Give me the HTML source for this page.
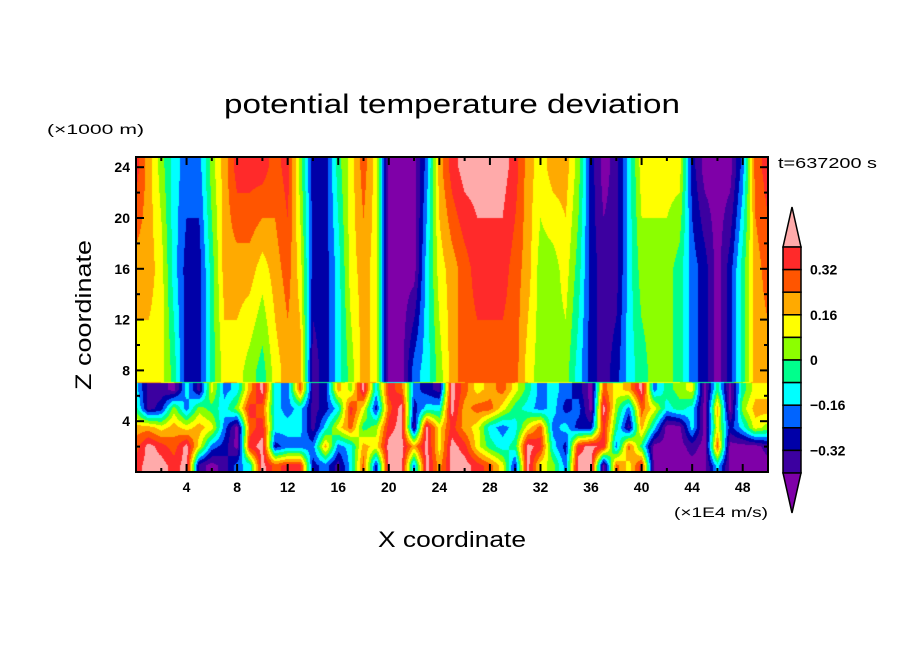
<!DOCTYPE html>
<html><head><meta charset="utf-8">
<style>
body{margin:0;background:#fff;width:904px;height:654px;overflow:hidden;font-family:"Liberation Sans",sans-serif;}
#wrap{position:relative;width:904px;height:654px;}
canvas{position:absolute;left:136px;top:157px;}
svg{position:absolute;left:0;top:0;}
</style></head><body>
<div id="wrap">
<canvas id="field" width="632" height="315"></canvas>
<svg id="ov" width="904" height="654">
<text x="452" y="113" text-anchor="middle" font-size="27" textLength="456" lengthAdjust="spacingAndGlyphs">potential temperature deviation</text>
<text x="47" y="134" font-size="14" textLength="97" lengthAdjust="spacingAndGlyphs">(×1000 m)</text>
<text x="0" y="0" font-size="22" text-anchor="middle" textLength="150" lengthAdjust="spacingAndGlyphs" transform="translate(91,315) rotate(-90)">Z coordinate</text>
<text x="452" y="547" font-size="22" text-anchor="middle" textLength="148" lengthAdjust="spacingAndGlyphs">X coordinate</text>
<text x="768" y="517" font-size="14" text-anchor="end" textLength="94" lengthAdjust="spacingAndGlyphs">(×1E4 m/s)</text>
<text x="778" y="168" font-size="15" textLength="99" lengthAdjust="spacingAndGlyphs">t=637200 s</text>
<g id="axes"></g>
<g id="cbar"></g>
</svg>
</div>
<script>
// Values: deviation in contour steps of 0.08 K (value 5.5 = 0 K)
const xs = [0,1,2,3,4,5,6,7,8,9,10,11,12,13,14,15,16,17,18,19,20,21,22,23,24,25,26,27,28,29,30,31,32,33,34,35,36,37,38,39,40,41,42,43,44,45,46,47,48,49,50];
const upperZ = [24,16,8];
const thetaZ24 = [10,8,6,4,3,3,6,8,10,10,10,9,10,6,2,2,5,7,9,7,0,0,0,3,8,10,11,11,11,11,10,8,7,8,8,6,2,0,1,4,7,7,7,7,2,0,0,0,3,9,10];
const thetaZ16 = [8,8,7,4,2,2,5,8,8,8,7,8,9,7,2,2,4,7,8,7,0,0,0,4,7,8,9,10,10,10,9,8,6,6,7,5,2,1,1,4,6,6,6,5,3,2,0,2,5,8,9];
const thetaZ8  = [7,7,7,5,2,2,5,7,7,6,5,7,8,8,1,2,4,6,8,7,0,0,3,4,6,8,9,9,9,9,9,7,6,6,6,4,2,1,2,4,5,6,6,5,3,2,0,2,5,8,8];
const lowerZ = [6.5,5,3.5,2,0.5];
const thetaL65 = [4,1,1,0,4,1,7,3,4,8,11,4,3,9,1,2,8,6,11,4,10,9,3,2,1,11,9,7,8,9,7,5,3,4,3,2,0,9,7,8,11,3,5,6,7,0,5,0,5,7,7];
const thetaL50 = [5,1,2,6,3,6,5,4,6,10,9,4,3,4,1,2,4,10,7,2,9,11,2,4,4,11,8,9,9,7,5,4,3,4,2,3,0,11,6,3,9,7,4,5,4,0,8,0,6,8,8];
const thetaL35 = [8,8,7,8,7,8,7,3,0,9,10,4,4,4,1,4,7,9,5,6,10,11,1,11,7,10,8,7,4,3,4,7,9,3,4,2,2,10,5,1,8,4,0,0,4,0,7,2,4,7,6];
const thetaL20 = [9,11,10,9,11,7,3,2,0,10,11,2,3,3,3,8,3,4,8,7,11,11,8,11,7,11,10,7,5,4,5,11,10,4,2,10,11,10,3,9,5,0,0,0,1,0,9,0,0,0,1];
const thetaL05 = [10,11,11,10,11,1,0,1,3,4,11,9,10,10,2,3,1,4,9,2,11,11,3,11,8,11,11,10,9,7,2,11,7,6,3,11,11,0,9,7,10,0,0,0,0,0,4,0,0,0,0];
const cbarLabels = ["0.32","0.16","0","\u22120.16","\u22120.32"];
const xTicks = [4,8,12,16,20,24,28,32,36,40,44,48];
const yTicks = [4,8,12,16,20,24];

const colors=["#7f00a8","#3c00a0","#0000a8","#0064ff","#00ffff","#00ff8c","#8cff00","#ffff00","#ffaa00","#ff5500","#ff2a2a","#ffaaaa"];
const rgb=colors.map(c=>[parseInt(c.substr(1,2),16),parseInt(c.substr(3,2),16),parseInt(c.substr(5,2),16)]);
const L=136,T=157,W=632,H=315,R=L+W,B=T+H;
const sx=x=>L+x*W/50, sz=z=>B-z*12.7;
const upRows=[thetaZ24,thetaZ16,thetaZ8], lowRows=[thetaL65,thetaL50,thetaL35,thetaL20,thetaL05];
function rowAt(row,x){const i=Math.min(49,Math.floor(x)),f=x-i;return row[i]*(1-f)+row[i+1]*f;}
function interp(zs,rows,x,z){
  if(z>=zs[0])return rowAt(rows[0],x);
  if(z<=zs[zs.length-1])return rowAt(rows[rows.length-1],x);
  for(let k=0;k<zs.length-1;k++){if(z<=zs[k]&&z>=zs[k+1]){const f=(zs[k]-z)/(zs[k]-zs[k+1]);return rowAt(rows[k],x)*(1-f)+rowAt(rows[k+1],x)*f;}}
}
const cv=document.getElementById('field'),ctx=cv.getContext('2d'),img=ctx.createImageData(W,H);
for(let py=0;py<H;py++){const z=(B-(T+py+0.5))/12.7;
 for(let px=0;px<W;px++){const x=(px+0.5)*50/W;
  let v=z>=7?interp(upperZ,upRows,x,z):interp(lowerZ,lowRows,x,z);
  if(z>=7&&z<7.12)v=(v+8)/2;
  let c=Math.max(0,Math.min(11,Math.round(v)));
  const o=(py*W+px)*4;img.data[o]=rgb[c][0];img.data[o+1]=rgb[c][1];img.data[o+2]=rgb[c][2];img.data[o+3]=255;}}
ctx.putImageData(img,0,0);

const NS="http://www.w3.org/2000/svg";
function el(tag,attrs,parent,text){const e=document.createElementNS(NS,tag);for(const k in attrs)e.setAttribute(k,attrs[k]);if(text!==undefined)e.textContent=text;parent.appendChild(e);return e;}
const ax=document.getElementById('axes');
const frame=el('rect',{x:L,y:T,width:W,height:H,fill:'none',stroke:'#000','stroke-width':2},ax);


for(let x=2;x<50;x+=2){const major=x%4===0,len=major?8:4;
  el('line',{x1:sx(x),x2:sx(x),y1:B,y2:B-len,stroke:'#000','stroke-width':2},ax);
  el('line',{x1:sx(x),x2:sx(x),y1:T,y2:T+len,stroke:'#000','stroke-width':2},ax);}
for(let z=2;z<25;z+=2){const major=z%4===0,len=major?8:4;
  el('line',{x1:L,x2:L+len,y1:sz(z),y2:sz(z),stroke:'#000','stroke-width':2},ax);
  el('line',{x1:R,x2:R-len,y1:sz(z),y2:sz(z),stroke:'#000','stroke-width':2},ax);}
xTicks.forEach(v=>{const t=el('text',{x:sx(v),y:B+20,'font-size':14,'font-weight':'bold','text-anchor':'middle'},ax,String(v));
  
  });
yTicks.forEach(v=>{const t=el('text',{x:L-6,y:sz(v)+5,'font-size':14,'font-weight':'bold','text-anchor':'end'},ax,String(v));
  
  });

const cb=document.getElementById('cbar');
const cx0=783,cx1=801,ctop=247,cbot=473,n=10,h=(cbot-ctop)/n;
const up=el('polygon',{points:`${cx0},${ctop} ${cx1},${ctop} ${(cx0+cx1)/2},207`,fill:colors[11],stroke:'#000','stroke-width':1.5},cb);


for(let i=0;i<n;i++){const r=el('rect',{x:cx0,y:ctop+i*h,width:cx1-cx0,height:h,fill:colors[10-i],stroke:'#000','stroke-width':1.5},cb);
  
  }
const dn=el('polygon',{points:`${cx0},${cbot} ${cx1},${cbot} ${(cx0+cx1)/2},513`,fill:colors[0],stroke:'#000','stroke-width':1.5},cb);


cbarLabels.forEach((s,i)=>{const t=el('text',{x:810,y:ctop+(1+2*i)*h+5,'font-size':14,'font-weight':'bold'},cb,s);
  
  });
</script>
</body></html>
